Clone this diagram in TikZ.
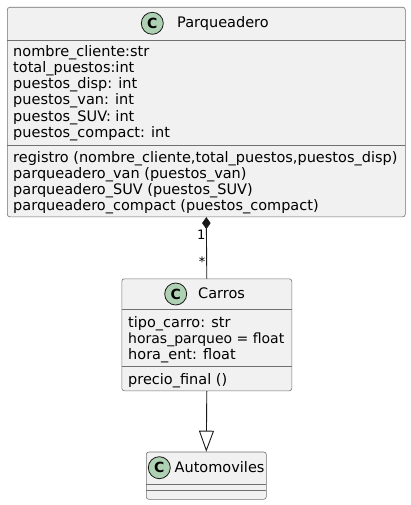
\documentclass[tikz,border=0pt]{standalone}
\usepackage{fontspec}
\setmainfont{DejaVu Sans}
\usetikzlibrary{arrows.meta,positioning}
\definecolor{umlfill}{HTML}{F1F1F1}
\definecolor{umlline}{HTML}{181818}
\definecolor{umledge}{HTML}{707070}
\definecolor{umlcirc}{HTML}{ADD1B2}

\begin{document}
\begin{tikzpicture}[x=1pt,y=-1pt,
  classbox/.style={draw=umledge, fill=umlfill, line width=0.6pt, rounded corners=2.5pt, inner sep=0pt, anchor=north west},
  badge/.style={circle, draw=umlline, fill=umlcirc, line width=0.8pt, minimum size=22pt, inner sep=0pt, font=\bfseries\fontsize{14}{14}\selectfont},
  member/.style={anchor=base west, inner sep=0pt, font=\fontsize{14.5}{16}\selectfont},
  mult/.style={inner sep=0pt, font=\fontsize{13}{13}\selectfont},
  sep/.style={draw=umledge, line width=0.6pt},
  link/.style={draw=umlline, line width=0.9pt}]
  \useasboundingbox (0,0) rectangle (411,505);

  % Parqueadero
  \node[classbox, minimum width=398pt, minimum height=209.5pt] (parq) at (7,7) {};
  \node[badge] (parqC) at (152.3,23.3) {C};
  \node[member] (parqT) at (177,28) {Parqueadero};
  \draw[sep] (7,40) -- (405,40);
  \node[member] (pa1) at (13,56.3) {nombre\_cliente:str};
  \node[member] (pa2) at (13,72.5) {total\_puestos:int};
  \node[member] (pa3) at (13,88.7) {puestos\_disp: int};
  \node[member] (pa4) at (13,104.9) {puestos\_van: int};
  \node[member] (pa5) at (13,121.1) {puestos\_SUV: int};
  \node[member] (pa6) at (13,137.3) {puestos\_compact: int};
  \draw[sep] (7,145) -- (405,145);
  \node[member] (pm1) at (13,162.7) {registro (nombre\_cliente,total\_puestos,puestos\_disp)};
  \node[member] (pm2) at (13,178.8) {parqueadero\_van (puestos\_van)};
  \node[member] (pm3) at (13,194.8) {parqueadero\_SUV (puestos\_SUV)};
  \node[member] (pm4) at (13,210.6) {parqueadero\_compact (puestos\_compact)};

  % Carros
  \node[classbox, minimum width=170pt, minimum height=112pt] (carros) at (121.5,278.5) {};
  \node[badge] (carC) at (175.7,294) {C};
  \node[member] (carT) at (198,298.7) {Carros};
  \draw[sep] (121.5,309) -- (291.5,309);
  \node[member] (ca1) at (128,327) {tipo\_carro: str};
  \node[member, font=\fontsize{14}{16}\selectfont] (ca2) at (128,343) {horas\_parqueo = float};
  \node[member] (ca3) at (128,359) {hora\_ent: float};
  \draw[sep] (121.5,366.7) -- (291.5,366.7);
  \node[member] (cm1) at (128,384) {precio\_final ()};

  % Automoviles
  \node[classbox, minimum width=120pt, minimum height=47.3pt] (auto) at (146,451.7) {};
  \node[badge] (autoC) at (159.3,467.7) {C};
  \node[member] (autoT) at (174.5,472.4) {Automoviles};
  \draw[sep] (146,484) -- (266,484);
  \draw[sep] (146,490.7) -- (266,490.7);

  % relations
  \draw[link, {Diamond[length=12pt,width=8.5pt]}-] (parq.south) -- (carros.north);
  \node[mult, anchor=east] (mOne) at (205.5,235) {1};
  \node[mult, anchor=east] (mMany) at (205.5,262) {*};
  \draw[link, -{Triangle[open,length=21pt,width=15pt]}] (carros.south) -- (auto.north);
\end{tikzpicture}
\end{document}
